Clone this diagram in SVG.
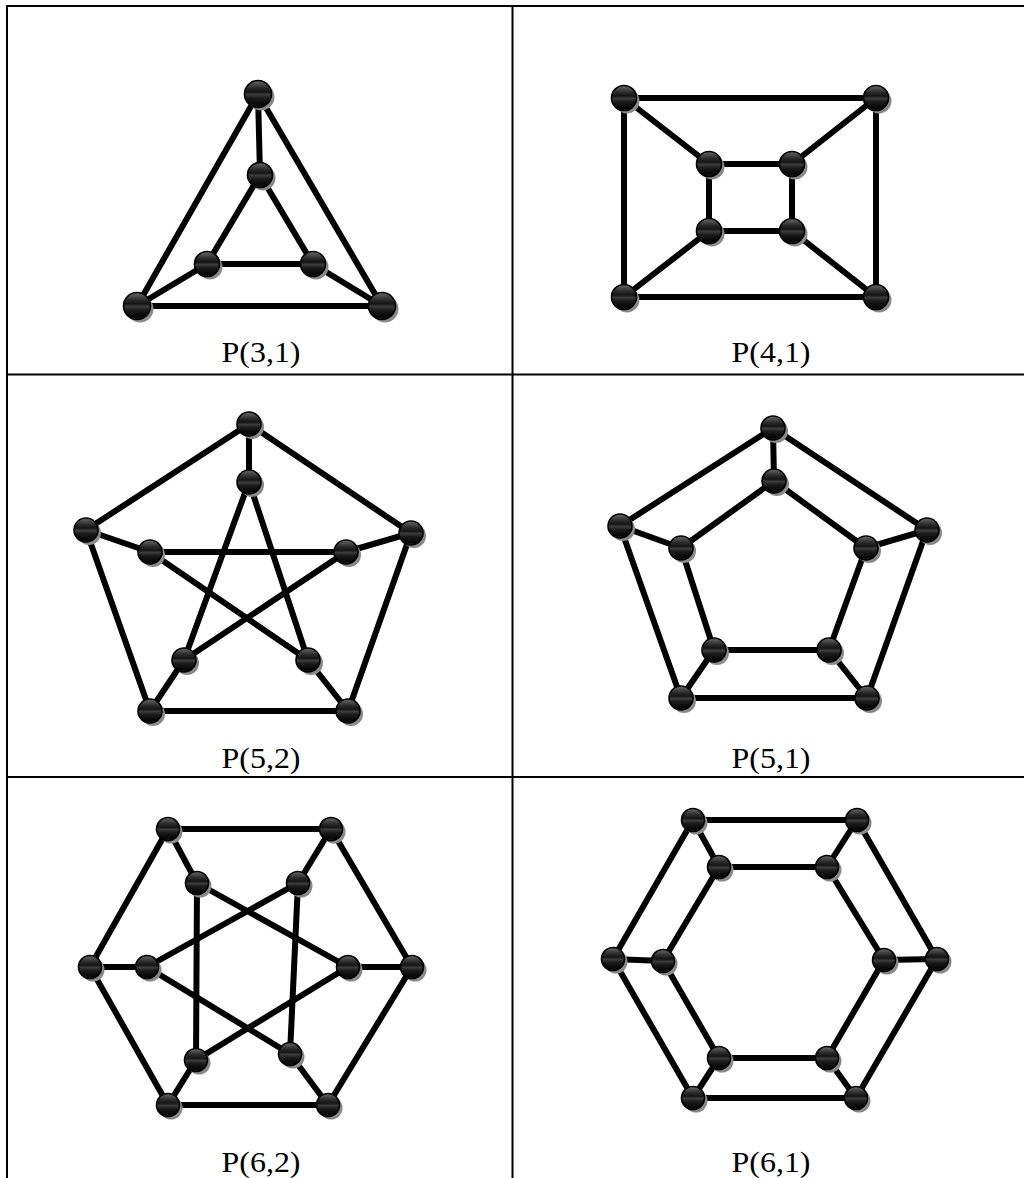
<svg xmlns="http://www.w3.org/2000/svg" width="1024" height="1178" viewBox="0 0 1024 1178">
<style>
.grid{stroke:#000;stroke-width:2;fill:none}
.e{stroke:#000;stroke-width:6;stroke-linecap:round}
.sh{fill:#8a8a8a}
.n{fill:url(#ball);stroke:#000;stroke-width:1.6}
.lbl{font-family:"Liberation Serif","Times New Roman",serif;font-size:30px;fill:#000;text-anchor:middle}
</style>
<defs>
<linearGradient id="ball" x1="0" y1="0" x2="0" y2="1">
<stop offset="0" stop-color="#6a6a6a"/>
<stop offset="0.28" stop-color="#2a2a2a"/>
<stop offset="0.42" stop-color="#141414"/>
<stop offset="0.52" stop-color="#3c3c3c"/>
<stop offset="0.66" stop-color="#1a1a1a"/>
<stop offset="0.9" stop-color="#060606"/>
<stop offset="1" stop-color="#262626"/>
</linearGradient>
</defs>
<rect width="1024" height="1178" fill="#fff"/>
<g id="table" class="grid">
<line x1="7" y1="5" x2="7" y2="1178"/>
<line x1="512.5" y1="5" x2="512.5" y2="1178"/>
<line x1="6" y1="6" x2="1024" y2="6"/>
<line x1="6" y1="374.5" x2="1024" y2="374.5"/>
<line x1="6" y1="777" x2="1024" y2="777"/>
</g>
<g id="connectors" class="e">
<!-- P(3,1) -->
<line x1="258" y1="94" x2="137" y2="306"/><line x1="137" y1="306" x2="382" y2="306"/><line x1="382" y1="306" x2="258" y2="94"/>
<line x1="258" y1="94" x2="260" y2="175"/><line x1="137" y1="306" x2="207" y2="264"/><line x1="382" y1="306" x2="313" y2="264"/>
<line x1="260" y1="175" x2="207" y2="264"/><line x1="207" y1="264" x2="313" y2="264"/><line x1="313" y1="264" x2="260" y2="175"/>
<!-- P(4,1) -->
<line x1="624" y1="98" x2="876" y2="98"/><line x1="876" y1="98" x2="876" y2="297"/><line x1="876" y1="297" x2="624" y2="297"/><line x1="624" y1="297" x2="624" y2="98"/>
<line x1="624" y1="98" x2="709" y2="164"/><line x1="876" y1="98" x2="792" y2="164"/><line x1="876" y1="297" x2="792" y2="231"/><line x1="624" y1="297" x2="709" y2="231"/>
<line x1="709" y1="164" x2="792" y2="164"/><line x1="792" y1="164" x2="792" y2="231"/><line x1="792" y1="231" x2="709" y2="231"/><line x1="709" y1="231" x2="709" y2="164"/>
<!-- P(5,2) -->
<line x1="249" y1="424" x2="411" y2="533"/><line x1="411" y1="533" x2="348" y2="711"/><line x1="348" y1="711" x2="150" y2="711"/><line x1="150" y1="711" x2="86" y2="530"/><line x1="86" y1="530" x2="249" y2="424"/>
<line x1="249" y1="424" x2="249" y2="482"/><line x1="411" y1="533" x2="346" y2="552"/><line x1="348" y1="711" x2="308" y2="660"/><line x1="150" y1="711" x2="184" y2="660"/><line x1="86" y1="530" x2="150" y2="552"/>
<line x1="249" y1="482" x2="184" y2="660"/><line x1="249" y1="482" x2="308" y2="660"/><line x1="150" y1="552" x2="346" y2="552"/><line x1="150" y1="552" x2="308" y2="660"/><line x1="346" y1="552" x2="184" y2="660"/>
<!-- P(5,1) -->
<line x1="773" y1="428" x2="927" y2="530"/><line x1="927" y1="530" x2="867" y2="698"/><line x1="867" y1="698" x2="681" y2="698"/><line x1="681" y1="698" x2="620" y2="526"/><line x1="620" y1="526" x2="773" y2="428"/>
<line x1="773" y1="428" x2="774" y2="481"/><line x1="927" y1="530" x2="866" y2="548"/><line x1="867" y1="698" x2="829" y2="650"/><line x1="681" y1="698" x2="714" y2="650"/><line x1="620" y1="526" x2="681" y2="548"/>
<line x1="774" y1="481" x2="866" y2="548"/><line x1="866" y1="548" x2="829" y2="650"/><line x1="829" y1="650" x2="714" y2="650"/><line x1="714" y1="650" x2="681" y2="548"/><line x1="681" y1="548" x2="774" y2="481"/>
<!-- P(6,2) -->
<line x1="168" y1="829" x2="331" y2="829"/><line x1="331" y1="829" x2="412" y2="967"/><line x1="412" y1="967" x2="328" y2="1105"/><line x1="328" y1="1105" x2="168" y2="1105"/><line x1="168" y1="1105" x2="90" y2="967"/><line x1="90" y1="967" x2="168" y2="829"/>
<line x1="168" y1="829" x2="197" y2="883"/><line x1="331" y1="829" x2="298" y2="883"/><line x1="412" y1="967" x2="348" y2="967"/><line x1="328" y1="1105" x2="290" y2="1054"/><line x1="168" y1="1105" x2="196" y2="1060"/><line x1="90" y1="967" x2="147" y2="967"/>
<line x1="348" y1="967" x2="197" y2="883"/><line x1="197" y1="883" x2="196" y2="1060"/><line x1="196" y1="1060" x2="348" y2="967"/>
<line x1="298" y1="883" x2="147" y2="967"/><line x1="147" y1="967" x2="290" y2="1054"/><line x1="290" y1="1054" x2="298" y2="883"/>
<!-- P(6,1) -->
<line x1="693" y1="820" x2="857" y2="820"/><line x1="857" y1="820" x2="937" y2="959"/><line x1="937" y1="959" x2="856" y2="1098"/><line x1="856" y1="1098" x2="693" y2="1098"/><line x1="693" y1="1098" x2="613" y2="959"/><line x1="613" y1="959" x2="693" y2="820"/>
<line x1="693" y1="820" x2="719" y2="867"/><line x1="857" y1="820" x2="827" y2="867"/><line x1="937" y1="959" x2="884" y2="960"/><line x1="856" y1="1098" x2="827" y2="1058"/><line x1="693" y1="1098" x2="719" y2="1058"/><line x1="613" y1="959" x2="663" y2="961"/>
<line x1="719" y1="867" x2="827" y2="867"/><line x1="827" y1="867" x2="884" y2="960"/><line x1="884" y1="960" x2="827" y2="1058"/><line x1="827" y1="1058" x2="719" y2="1058"/><line x1="719" y1="1058" x2="663" y2="961"/><line x1="663" y1="961" x2="719" y2="867"/>
</g>
<!-- P(3,1) nodes -->
<g id="p31-o0"><circle class="sh" cx="261" cy="97" r="13.5"/><circle class="n" cx="258" cy="94" r="13.5"/></g>
<g id="p31-o1"><circle class="sh" cx="140" cy="309" r="13.5"/><circle class="n" cx="137" cy="306" r="13.5"/></g>
<g id="p31-o2"><circle class="sh" cx="385" cy="309" r="13.5"/><circle class="n" cx="382" cy="306" r="13.5"/></g>
<g id="p31-i0"><circle class="sh" cx="263" cy="178" r="12.5"/><circle class="n" cx="260" cy="175" r="12.5"/></g>
<g id="p31-i1"><circle class="sh" cx="210" cy="267" r="12.5"/><circle class="n" cx="207" cy="264" r="12.5"/></g>
<g id="p31-i2"><circle class="sh" cx="316" cy="267" r="12.5"/><circle class="n" cx="313" cy="264" r="12.5"/></g>
<!-- P(4,1) nodes -->
<g id="p41-o0"><circle class="sh" cx="627" cy="101" r="12.5"/><circle class="n" cx="624" cy="98" r="12.5"/></g>
<g id="p41-o1"><circle class="sh" cx="879" cy="101" r="12.5"/><circle class="n" cx="876" cy="98" r="12.5"/></g>
<g id="p41-o2"><circle class="sh" cx="879" cy="300" r="12.5"/><circle class="n" cx="876" cy="297" r="12.5"/></g>
<g id="p41-o3"><circle class="sh" cx="627" cy="300" r="12.5"/><circle class="n" cx="624" cy="297" r="12.5"/></g>
<g id="p41-i0"><circle class="sh" cx="712" cy="167" r="12.5"/><circle class="n" cx="709" cy="164" r="12.5"/></g>
<g id="p41-i1"><circle class="sh" cx="795" cy="167" r="12.5"/><circle class="n" cx="792" cy="164" r="12.5"/></g>
<g id="p41-i2"><circle class="sh" cx="795" cy="234" r="12.5"/><circle class="n" cx="792" cy="231" r="12.5"/></g>
<g id="p41-i3"><circle class="sh" cx="712" cy="234" r="12.5"/><circle class="n" cx="709" cy="231" r="12.5"/></g>
<!-- P(5,2) nodes -->
<g id="p52-o0"><circle class="sh" cx="252" cy="427" r="12"/><circle class="n" cx="249" cy="424" r="12"/></g>
<g id="p52-o1"><circle class="sh" cx="414" cy="536" r="12"/><circle class="n" cx="411" cy="533" r="12"/></g>
<g id="p52-o2"><circle class="sh" cx="351" cy="714" r="12"/><circle class="n" cx="348" cy="711" r="12"/></g>
<g id="p52-o3"><circle class="sh" cx="153" cy="714" r="12"/><circle class="n" cx="150" cy="711" r="12"/></g>
<g id="p52-o4"><circle class="sh" cx="89" cy="533" r="12"/><circle class="n" cx="86" cy="530" r="12"/></g>
<g id="p52-i0"><circle class="sh" cx="252" cy="485" r="12"/><circle class="n" cx="249" cy="482" r="12"/></g>
<g id="p52-i1"><circle class="sh" cx="349" cy="555" r="12"/><circle class="n" cx="346" cy="552" r="12"/></g>
<g id="p52-i2"><circle class="sh" cx="311" cy="663" r="12"/><circle class="n" cx="308" cy="660" r="12"/></g>
<g id="p52-i3"><circle class="sh" cx="187" cy="663" r="12"/><circle class="n" cx="184" cy="660" r="12"/></g>
<g id="p52-i4"><circle class="sh" cx="153" cy="555" r="12"/><circle class="n" cx="150" cy="552" r="12"/></g>
<!-- P(5,1) nodes -->
<g id="p51-o0"><circle class="sh" cx="776" cy="431" r="12"/><circle class="n" cx="773" cy="428" r="12"/></g>
<g id="p51-o1"><circle class="sh" cx="930" cy="533" r="12"/><circle class="n" cx="927" cy="530" r="12"/></g>
<g id="p51-o2"><circle class="sh" cx="870" cy="701" r="12"/><circle class="n" cx="867" cy="698" r="12"/></g>
<g id="p51-o3"><circle class="sh" cx="684" cy="701" r="12"/><circle class="n" cx="681" cy="698" r="12"/></g>
<g id="p51-o4"><circle class="sh" cx="623" cy="529" r="12"/><circle class="n" cx="620" cy="526" r="12"/></g>
<g id="p51-i0"><circle class="sh" cx="777" cy="484" r="12"/><circle class="n" cx="774" cy="481" r="12"/></g>
<g id="p51-i1"><circle class="sh" cx="869" cy="551" r="12"/><circle class="n" cx="866" cy="548" r="12"/></g>
<g id="p51-i2"><circle class="sh" cx="832" cy="653" r="12"/><circle class="n" cx="829" cy="650" r="12"/></g>
<g id="p51-i3"><circle class="sh" cx="717" cy="653" r="12"/><circle class="n" cx="714" cy="650" r="12"/></g>
<g id="p51-i4"><circle class="sh" cx="684" cy="551" r="12"/><circle class="n" cx="681" cy="548" r="12"/></g>
<!-- P(6,2) nodes -->
<g id="p62-o0"><circle class="sh" cx="171" cy="832" r="11.5"/><circle class="n" cx="168" cy="829" r="11.5"/></g>
<g id="p62-o1"><circle class="sh" cx="334" cy="832" r="11.5"/><circle class="n" cx="331" cy="829" r="11.5"/></g>
<g id="p62-o2"><circle class="sh" cx="415" cy="970" r="11.5"/><circle class="n" cx="412" cy="967" r="11.5"/></g>
<g id="p62-o3"><circle class="sh" cx="331" cy="1108" r="11.5"/><circle class="n" cx="328" cy="1105" r="11.5"/></g>
<g id="p62-o4"><circle class="sh" cx="171" cy="1108" r="11.5"/><circle class="n" cx="168" cy="1105" r="11.5"/></g>
<g id="p62-o5"><circle class="sh" cx="93" cy="970" r="11.5"/><circle class="n" cx="90" cy="967" r="11.5"/></g>
<g id="p62-i0"><circle class="sh" cx="200" cy="886" r="11.5"/><circle class="n" cx="197" cy="883" r="11.5"/></g>
<g id="p62-i1"><circle class="sh" cx="301" cy="886" r="11.5"/><circle class="n" cx="298" cy="883" r="11.5"/></g>
<g id="p62-i2"><circle class="sh" cx="351" cy="970" r="11.5"/><circle class="n" cx="348" cy="967" r="11.5"/></g>
<g id="p62-i3"><circle class="sh" cx="293" cy="1057" r="11.5"/><circle class="n" cx="290" cy="1054" r="11.5"/></g>
<g id="p62-i4"><circle class="sh" cx="199" cy="1063" r="11.5"/><circle class="n" cx="196" cy="1060" r="11.5"/></g>
<g id="p62-i5"><circle class="sh" cx="150" cy="970" r="11.5"/><circle class="n" cx="147" cy="967" r="11.5"/></g>
<!-- P(6,1) nodes -->
<g id="p61-o0"><circle class="sh" cx="696" cy="823" r="11.5"/><circle class="n" cx="693" cy="820" r="11.5"/></g>
<g id="p61-o1"><circle class="sh" cx="860" cy="823" r="11.5"/><circle class="n" cx="857" cy="820" r="11.5"/></g>
<g id="p61-o2"><circle class="sh" cx="940" cy="962" r="11.5"/><circle class="n" cx="937" cy="959" r="11.5"/></g>
<g id="p61-o3"><circle class="sh" cx="859" cy="1101" r="11.5"/><circle class="n" cx="856" cy="1098" r="11.5"/></g>
<g id="p61-o4"><circle class="sh" cx="696" cy="1101" r="11.5"/><circle class="n" cx="693" cy="1098" r="11.5"/></g>
<g id="p61-o5"><circle class="sh" cx="616" cy="962" r="11.5"/><circle class="n" cx="613" cy="959" r="11.5"/></g>
<g id="p61-i0"><circle class="sh" cx="722" cy="870" r="11.5"/><circle class="n" cx="719" cy="867" r="11.5"/></g>
<g id="p61-i1"><circle class="sh" cx="830" cy="870" r="11.5"/><circle class="n" cx="827" cy="867" r="11.5"/></g>
<g id="p61-i2"><circle class="sh" cx="887" cy="963" r="11.5"/><circle class="n" cx="884" cy="960" r="11.5"/></g>
<g id="p61-i3"><circle class="sh" cx="830" cy="1061" r="11.5"/><circle class="n" cx="827" cy="1058" r="11.5"/></g>
<g id="p61-i4"><circle class="sh" cx="722" cy="1061" r="11.5"/><circle class="n" cx="719" cy="1058" r="11.5"/></g>
<g id="p61-i5"><circle class="sh" cx="666" cy="964" r="11.5"/><circle class="n" cx="663" cy="961" r="11.5"/></g>
<g id="labels">
<text class="lbl" x="261" y="362" textLength="79" lengthAdjust="spacingAndGlyphs">P(3,1)</text>
<text class="lbl" x="771" y="362" textLength="79" lengthAdjust="spacingAndGlyphs">P(4,1)</text>
<text class="lbl" x="261" y="768" textLength="79" lengthAdjust="spacingAndGlyphs">P(5,2)</text>
<text class="lbl" x="771" y="768" textLength="79" lengthAdjust="spacingAndGlyphs">P(5,1)</text>
<text class="lbl" x="261" y="1172" textLength="79" lengthAdjust="spacingAndGlyphs">P(6,2)</text>
<text class="lbl" x="771" y="1172" textLength="79" lengthAdjust="spacingAndGlyphs">P(6,1)</text>
</g>
</svg>
